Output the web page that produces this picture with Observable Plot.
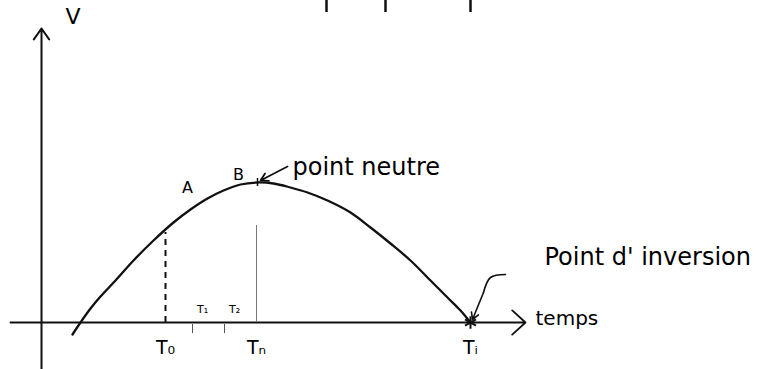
<!DOCTYPE html>
<html>
<head>
<meta charset="utf-8">
<script src="https://cdn.jsdelivr.net/npm/d3@7"></script>
<script src="https://cdn.jsdelivr.net/npm/@observablehq/plot@0.6"></script>
<style>
  html, body { margin: 0; padding: 0; background: #fff; }
  #chart svg { display: block; }
</style>
</head>
<body>
<div id="chart"></div>
<script>
// Tension V over time: rises, peaks at the neutral point, falls to the inversion point.
const curveT = [3.1, 3.9, 4.9, 5.9, 7.4, 9.2, 11.2, 13.2, 14.9, 16.6, 18.2, 19.9, 21.6, 23.2, 24.9, 26.6, 28.6, 30.9, 32.9, 34.9, 36.9, 38.9, 40.6, 41.9, 42.9];
const curveV = [-1.2, 0, 1.4, 2.6, 4.2, 6.2, 8.2, 10.0, 11.3, 12.4, 13.2, 13.8, 14.0, 13.9, 13.5, 13.0, 12.2, 11.0, 9.5, 7.9, 6.2, 4.2, 2.5, 1.2, 0];

// Marked instants on the time axis
const instantNames = ["T₀", "Tₙ", "Tᵢ"];
const instantT = [12.4, 21.5, 42.9];
const instantV = [9.0, 9.7, 0];   // height of the curve at each instant

// Small intermediate instants
const minorNames = ["T₁", "T₂"];
const minorT = [15.1, 18.3];

// Points named on the curve
const pointNames = ["A", "B"];
const pointT = [14.6, 19.7];
const pointV = [13.5, 14.8];

// Axis extents
const tMin = -3.1, tMax = 48.4;
const vMin = -4.7, vMax = 29.4;

const curve = curveT.map((t, i) => ({t, v: curveV[i]}));
const leader = [{t: 46.4, v: 4.8}, {t: 44.9, v: 4.5}, {t: 44.2, v: 3.0}];
const topStrokes = [28.5, 34.4, 42.9];

const font = "'DejaVu Sans', sans-serif";

const chart = Plot.plot({
  width: 757,
  height: 369,
  marginTop: 0, marginRight: 0, marginBottom: 0, marginLeft: 0,
  x: {domain: [-4.1, 71.6], axis: null},
  y: {domain: [-4.7, 32.2], axis: null},
  style: {fontFamily: font, background: "#fff", color: "#000"},
  marks: [
    // axes
    Plot.arrow([0], {x1: 0, y1: vMin, x2: 0, y2: vMax, stroke: "#111", strokeWidth: 2, headLength: 10, headAngle: 70}),
    Plot.arrow([0], {x1: tMin, y1: 0, x2: tMax, y2: 0, stroke: "#111", strokeWidth: 1.8, headLength: 15, headAngle: 85}),
    Plot.text(["V"], {x: 2.4, y: 30.6, text: d => d, fontSize: 22, textAnchor: "start"}),
    Plot.text(["temps"], {x: 49.4, y: 0.4, text: d => d, fontSize: 20, textAnchor: "start"}),

    // stroke remnants along the top edge
    Plot.ruleX(topStrokes, {x: d => d, y1: 32.2, y2: 31.0, stroke: "#111", strokeWidth: 2.5}),

    // guide from the curve down to T₀ (dashed) and Tₙ (thin)
    Plot.ruleX([0], {x: instantT[0], y1: 0, y2: instantV[0], stroke: "#111", strokeWidth: 2, strokeDasharray: "6,5"}),
    Plot.ruleX([0], {x: instantT[1], y1: 0, y2: instantV[1], stroke: "#777", strokeWidth: 1}),

    // small ticks for T₁ and T₂
    Plot.ruleX(minorT, {x: d => d, y1: -0.2, y2: -1.1, stroke: "#555", strokeWidth: 1}),

    // the curve
    Plot.line(curve, {x: "t", y: "v", curve: "catmull-rom", stroke: "#111", strokeWidth: 2.3}),

    // neutral point and inversion point marks
    Plot.ruleX([0], {x: 21.6, y1: 13.6, y2: 14.4, stroke: "#111", strokeWidth: 1.5}),
    Plot.dot([0], {x: instantT[2], y: instantV[2], symbol: "asterisk", r: 6, stroke: "#111", strokeWidth: 2}),

    // labels
    Plot.text(instantNames, {x: (d, i) => instantT[i], y: -2.5, text: d => d, fontSize: 19}),
    Plot.text(minorNames, {x: (d, i) => minorT[i] + 1.0, y: 1.3, text: d => d, fontSize: 11}),
    Plot.text(pointNames, {x: (d, i) => pointT[i], y: (d, i) => pointV[i], text: d => d, fontSize: 16}),

    // "point neutre" with its arrow
    Plot.arrow([0], {x1: 24.6, y1: 15.6, x2: 21.9, y2: 14.2, stroke: "#111", strokeWidth: 1.8, headLength: 7}),
    Plot.text(["point neutre"], {x: 25.1, y: 15.5, text: d => d, fontSize: 24, textAnchor: "start"}),

    // "Point d' inversion" with its leader
    Plot.line(leader, {x: "t", y: "v", curve: "catmull-rom", stroke: "#111", strokeWidth: 1.6}),
    Plot.arrow([0], {x1: 44.2, y1: 3.0, x2: 43.1, y2: 0.3, stroke: "#111", strokeWidth: 1.6, headLength: 7}),
    Plot.text(["Point d' inversion"], {x: 50.3, y: 6.5, text: d => d, fontSize: 24, textAnchor: "start"})
  ]
});

document.getElementById("chart").append(chart);
</script>
</body>
</html>
